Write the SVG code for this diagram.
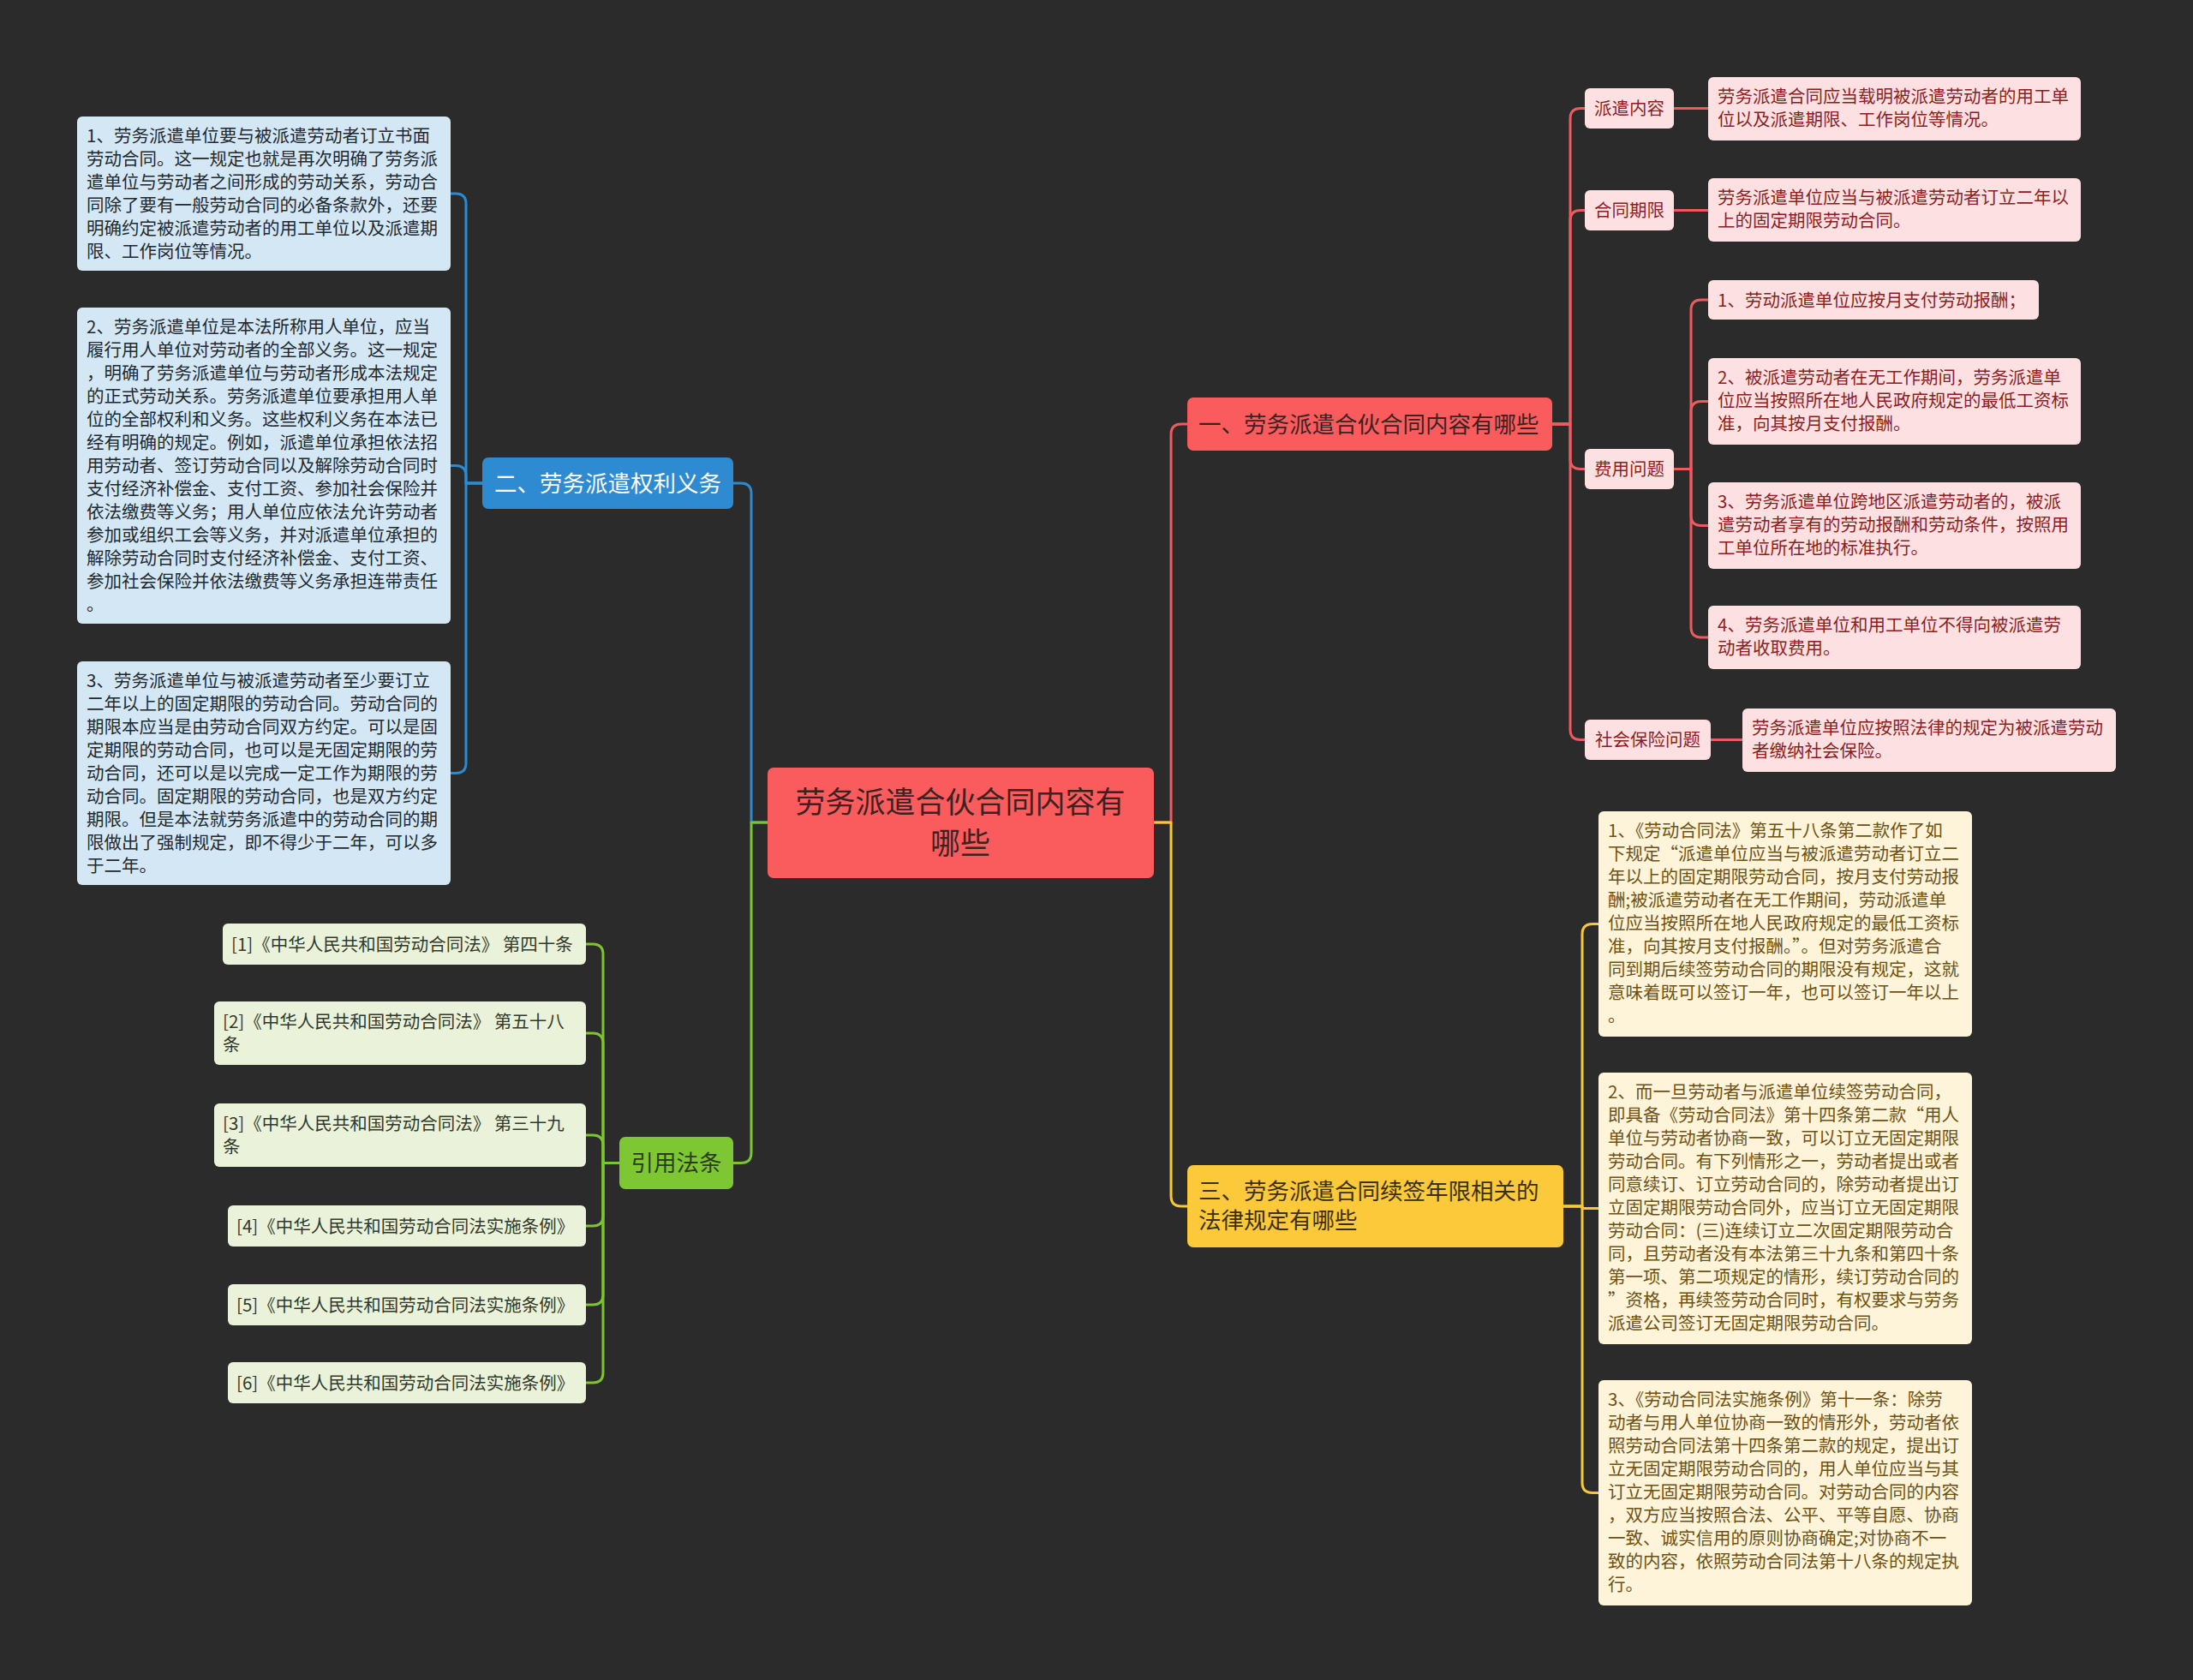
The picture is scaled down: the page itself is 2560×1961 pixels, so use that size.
<svg xmlns="http://www.w3.org/2000/svg" width="2560" height="1961" viewBox="0 0 2560 1961">
<style>
text{font-family:"Noto Sans CJK SC","Noto Sans",sans-serif;}
.bg{fill:#2b2b2b;}
.c{fill:none;stroke-width:3;stroke-linecap:round;stroke-linejoin:round;}
.cr{stroke:#ee5b5e;}
.cb{stroke:#2c8ad2;}
.cg{stroke:#7cc52f;}
.cy{stroke:#f6c836;}
.root{fill:#fa5b5d;}
.n1{fill:#fa5b5d;}
.n2{fill:#2e8ad1;}
.n3{fill:#7dc832;}
.n4{fill:#fbc93a;}
.lb{fill:#d4e7f5;}
.lg{fill:#eaf3da;}
.lp{fill:#fde1e2;}
.ly{fill:#fdf4d9;}
.tr{font-size:35px;fill:#3d2222;text-anchor:middle;}
.tm{font-size:26.5px;}
.tdk{fill:#3d2222;}
.tw{fill:#ffffff;}
.tgd{fill:#2c3a1d;}
.tyd{fill:#3a2f12;}
.ts{font-size:20.5px;}
.tbl{fill:#222a30;}
.tgl{fill:#33392a;}
.tpl{fill:#8c1d22;}
.tyl{fill:#6e5215;}
.mid{text-anchor:middle;}
</style>
<rect class="bg" x="0" y="0" width="2560" height="1961"/>

<g id="connectors">
  <!-- center to main branches -->
  <path class="c cb" d="M896,960 H877 V576 Q877,564 865,564 H856"/>
  <path class="c cg" d="M896,960 H877 V1345.5 Q877,1357.5 865,1357.5 H856"/>
  <path class="c cr" d="M1347,960 H1367 V507 Q1367,495 1379,495 H1386"/>
  <path class="c cy" d="M1347,960 H1367 V1396 Q1367,1408 1379,1408 H1386"/>
  <!-- blue branch -->
  <path class="c cb" d="M563,564 H544 V238 Q544,226 532,226 H526"/>
  <path class="c cb" d="M563,564 H544 V555.5 Q544,543.5 532,543.5 H526"/>
  <path class="c cb" d="M563,564 H544 V890.5 Q544,902.5 532,902.5 H526"/>
  <!-- green branch -->
  <path class="c cg" d="M723,1357.5 H704 V1114 Q704,1102 692,1102 H684"/>
  <path class="c cg" d="M723,1357.5 H704 V1218 Q704,1206 692,1206 H684"/>
  <path class="c cg" d="M723,1357.5 H704 V1337 Q704,1325 692,1325 H684"/>
  <path class="c cg" d="M723,1357.5 H704 V1419 Q704,1431 692,1431 H684"/>
  <path class="c cg" d="M723,1357.5 H704 V1511 Q704,1523 692,1523 H684"/>
  <path class="c cg" d="M723,1357.5 H704 V1602 Q704,1614 692,1614 H684"/>
  <!-- red branch -->
  <path class="c cr" d="M1812,495 H1833 V138.5 Q1833,126.5 1845,126.5 H1850"/>
  <path class="c cr" d="M1812,495 H1833 V257.5 Q1833,245.5 1845,245.5 H1850"/>
  <path class="c cr" d="M1812,495 H1833 V535.5 Q1833,547.5 1845,547.5 H1850"/>
  <path class="c cr" d="M1812,495 H1833 V851.5 Q1833,863.5 1845,863.5 H1850"/>
  <path class="c cr" d="M1954,126.5 H1994"/>
  <path class="c cr" d="M1954,245.5 H1994"/>
  <path class="c cr" d="M1954,547.5 H1974 V362 Q1974,350 1986,350 H1994"/>
  <path class="c cr" d="M1954,547.5 H1974 V480.5 Q1974,468.5 1986,468.5 H1994"/>
  <path class="c cr" d="M1954,547.5 H1974 V601.5 Q1974,613.5 1986,613.5 H1994"/>
  <path class="c cr" d="M1954,547.5 H1974 V732 Q1974,744 1986,744 H1994"/>
  <path class="c cr" d="M1997,863.5 H2034"/>
  <!-- yellow branch -->
  <path class="c cy" d="M1825,1408 H1847 V1090.5 Q1847,1078.5 1859,1078.5 H1866"/>
  <path class="c cy" d="M1825,1408 H1847 V1410.5 H1866"/>
  <path class="c cy" d="M1825,1408 H1847 V1730.5 Q1847,1742.5 1859,1742.5 H1866"/>
</g>

<g id="root">
  <rect class="root" x="896" y="896" width="451" height="129" rx="7"/>
  <text class="tr" x="1121" y="949">劳务派遣合伙合同内容有</text>
  <text class="tr" x="1121" y="997">哪些</text>
</g>

<g id="branch-1">
  <rect class="n1" x="1386" y="464" width="426" height="62" rx="7"/>
  <text class="tm tdk" x="1399" y="504.5">一、劳务派遣合伙合同内容有哪些</text>
</g>
<g id="branch-2">
  <rect class="n2" x="563" y="534" width="293" height="60" rx="7"/>
  <text class="tm tw mid" x="709.5" y="573.5">二、劳务派遣权利义务</text>
</g>
<g id="branch-3">
  <rect class="n4" x="1386" y="1360" width="439" height="96" rx="7"/>
  <text class="tm tyd" x="1399" y="1400">三、劳务派遣合同续签年限相关的</text>
  <text class="tm tyd" x="1399" y="1434">法律规定有哪些</text>
</g>
<g id="branch-refs">
  <rect class="n3" x="723" y="1327" width="133" height="61" rx="7"/>
  <text class="tm tgd mid" x="789.5" y="1367">引用法条</text>
</g>

<g id="blue-1">
  <rect class="lb" x="90" y="136" width="436" height="180" rx="6"/>
  <text class="ts tbl" x="101" y="165.5">1、劳务派遣单位要与被派遣劳动者订立书面</text>
  <text class="ts tbl" x="101" y="192.5">劳动合同。这一规定也就是再次明确了劳务派</text>
  <text class="ts tbl" x="101" y="219.5">遣单位与劳动者之间形成的劳动关系，劳动合</text>
  <text class="ts tbl" x="101" y="246.5">同除了要有一般劳动合同的必备条款外，还要</text>
  <text class="ts tbl" x="101" y="273.5">明确约定被派遣劳动者的用工单位以及派遣期</text>
  <text class="ts tbl" x="101" y="300.5">限、工作岗位等情况。</text>
</g>
<g id="blue-2">
  <rect class="lb" x="90" y="359" width="436" height="369" rx="6"/>
  <text class="ts tbl" x="101" y="388.5">2、劳务派遣单位是本法所称用人单位，应当</text>
  <text class="ts tbl" x="101" y="415.5">履行用人单位对劳动者的全部义务。这一规定</text>
  <text class="ts tbl" x="101" y="442.5">，明确了劳务派遣单位与劳动者形成本法规定</text>
  <text class="ts tbl" x="101" y="469.5">的正式劳动关系。劳务派遣单位要承担用人单</text>
  <text class="ts tbl" x="101" y="496.5">位的全部权利和义务。这些权利义务在本法已</text>
  <text class="ts tbl" x="101" y="523.5">经有明确的规定。例如，派遣单位承担依法招</text>
  <text class="ts tbl" x="101" y="550.5">用劳动者、签订劳动合同以及解除劳动合同时</text>
  <text class="ts tbl" x="101" y="577.5">支付经济补偿金、支付工资、参加社会保险并</text>
  <text class="ts tbl" x="101" y="604.5">依法缴费等义务；用人单位应依法允许劳动者</text>
  <text class="ts tbl" x="101" y="631.5">参加或组织工会等义务，并对派遣单位承担的</text>
  <text class="ts tbl" x="101" y="658.5">解除劳动合同时支付经济补偿金、支付工资、</text>
  <text class="ts tbl" x="101" y="685.5">参加社会保险并依法缴费等义务承担连带责任</text>
  <text class="ts tbl" x="101" y="712.5">。</text>
</g>
<g id="blue-3">
  <rect class="lb" x="90" y="772" width="436" height="261" rx="6"/>
  <text class="ts tbl" x="101" y="801.5">3、劳务派遣单位与被派遣劳动者至少要订立</text>
  <text class="ts tbl" x="101" y="828.5">二年以上的固定期限的劳动合同。劳动合同的</text>
  <text class="ts tbl" x="101" y="855.5">期限本应当是由劳动合同双方约定。可以是固</text>
  <text class="ts tbl" x="101" y="882.5">定期限的劳动合同，也可以是无固定期限的劳</text>
  <text class="ts tbl" x="101" y="909.5">动合同，还可以是以完成一定工作为期限的劳</text>
  <text class="ts tbl" x="101" y="936.5">动合同。固定期限的劳动合同，也是双方约定</text>
  <text class="ts tbl" x="101" y="963.5">期限。但是本法就劳务派遣中的劳动合同的期</text>
  <text class="ts tbl" x="101" y="990.5">限做出了强制规定，即不得少于二年，可以多</text>
  <text class="ts tbl" x="101" y="1017.5">于二年。</text>
</g>

<g id="ref-1">
  <rect class="lg" x="260" y="1078" width="424" height="48" rx="6"/>
  <text class="ts tgl" x="270" y="1109.5">[1]《中华人民共和国劳动合同法》 第四十条</text>
</g>
<g id="ref-2">
  <rect class="lg" x="250" y="1169" width="434" height="74" rx="6"/>
  <text class="ts tgl" x="260" y="1199.5">[2]《中华人民共和国劳动合同法》 第五十八</text>
  <text class="ts tgl" x="260" y="1226.5">条</text>
</g>
<g id="ref-3">
  <rect class="lg" x="250" y="1288" width="434" height="74" rx="6"/>
  <text class="ts tgl" x="260" y="1318.5">[3]《中华人民共和国劳动合同法》 第三十九</text>
  <text class="ts tgl" x="260" y="1345.5">条</text>
</g>
<g id="ref-4">
  <rect class="lg" x="266" y="1407" width="418" height="48" rx="6"/>
  <text class="ts tgl" x="276" y="1438.5">[4]《中华人民共和国劳动合同法实施条例》</text>
</g>
<g id="ref-5">
  <rect class="lg" x="266" y="1499" width="418" height="48" rx="6"/>
  <text class="ts tgl" x="276" y="1530.5">[5]《中华人民共和国劳动合同法实施条例》</text>
</g>
<g id="ref-6">
  <rect class="lg" x="266" y="1590" width="418" height="48" rx="6"/>
  <text class="ts tgl" x="276" y="1621.5">[6]《中华人民共和国劳动合同法实施条例》</text>
</g>

<g id="label-paiqian">
  <rect class="lp" x="1850" y="103" width="104" height="47" rx="6"/>
  <text class="ts tpl mid" x="1902" y="134">派遣内容</text>
</g>
<g id="label-qixian">
  <rect class="lp" x="1850" y="222" width="104" height="47" rx="6"/>
  <text class="ts tpl mid" x="1902" y="253">合同期限</text>
</g>
<g id="label-feiyong">
  <rect class="lp" x="1850" y="524" width="104" height="47" rx="6"/>
  <text class="ts tpl mid" x="1902" y="555">费用问题</text>
</g>
<g id="label-shebao">
  <rect class="lp" x="1850" y="840" width="147" height="47" rx="6"/>
  <text class="ts tpl mid" x="1923.5" y="871">社会保险问题</text>
</g>

<g id="leaf-paiqian">
  <rect class="lp" x="1994" y="90" width="435" height="74" rx="6"/>
  <text class="ts tpl" x="2005" y="120">劳务派遣合同应当载明被派遣劳动者的用工单</text>
  <text class="ts tpl" x="2005" y="147">位以及派遣期限、工作岗位等情况。</text>
</g>
<g id="leaf-qixian">
  <rect class="lp" x="1994" y="208" width="435" height="74" rx="6"/>
  <text class="ts tpl" x="2005" y="238">劳务派遣单位应当与被派遣劳动者订立二年以</text>
  <text class="ts tpl" x="2005" y="265">上的固定期限劳动合同。</text>
</g>
<g id="leaf-fee-1">
  <rect class="lp" x="1994" y="327" width="386" height="46" rx="6"/>
  <text class="ts tpl" x="2005" y="357.5">1、劳动派遣单位应按月支付劳动报酬；</text>
</g>
<g id="leaf-fee-2">
  <rect class="lp" x="1994" y="418" width="435" height="101" rx="6"/>
  <text class="ts tpl" x="2005" y="448">2、被派遣劳动者在无工作期间，劳务派遣单</text>
  <text class="ts tpl" x="2005" y="475">位应当按照所在地人民政府规定的最低工资标</text>
  <text class="ts tpl" x="2005" y="502">准，向其按月支付报酬。</text>
</g>
<g id="leaf-fee-3">
  <rect class="lp" x="1994" y="563" width="435" height="101" rx="6"/>
  <text class="ts tpl" x="2005" y="593">3、劳务派遣单位跨地区派遣劳动者的，被派</text>
  <text class="ts tpl" x="2005" y="620">遣劳动者享有的劳动报酬和劳动条件，按照用</text>
  <text class="ts tpl" x="2005" y="647">工单位所在地的标准执行。</text>
</g>
<g id="leaf-fee-4">
  <rect class="lp" x="1994" y="707" width="435" height="74" rx="6"/>
  <text class="ts tpl" x="2005" y="737">4、劳务派遣单位和用工单位不得向被派遣劳</text>
  <text class="ts tpl" x="2005" y="764">动者收取费用。</text>
</g>
<g id="leaf-shebao">
  <rect class="lp" x="2034" y="827" width="436" height="74" rx="6"/>
  <text class="ts tpl" x="2045" y="857">劳务派遣单位应按照法律的规定为被派遣劳动</text>
  <text class="ts tpl" x="2045" y="884">者缴纳社会保险。</text>
</g>

<g id="yellow-1">
  <rect class="ly" x="1866" y="947" width="436" height="263" rx="6"/>
  <text class="ts tyl" x="1877" y="976.5">1、《劳动合同法》第五十八条第二款作了如</text>
  <text class="ts tyl" x="1877" y="1003.5">下规定“派遣单位应当与被派遣劳动者订立二</text>
  <text class="ts tyl" x="1877" y="1030.5">年以上的固定期限劳动合同，按月支付劳动报</text>
  <text class="ts tyl" x="1877" y="1057.5">酬;被派遣劳动者在无工作期间，劳动派遣单</text>
  <text class="ts tyl" x="1877" y="1084.5">位应当按照所在地人民政府规定的最低工资标</text>
  <text class="ts tyl" x="1877" y="1111.5">准，向其按月支付报酬。”。但对劳务派遣合</text>
  <text class="ts tyl" x="1877" y="1138.5">同到期后续签劳动合同的期限没有规定，这就</text>
  <text class="ts tyl" x="1877" y="1165.5">意味着既可以签订一年，也可以签订一年以上</text>
  <text class="ts tyl" x="1877" y="1192.5">。</text>
</g>
<g id="yellow-2">
  <rect class="ly" x="1866" y="1252" width="436" height="317" rx="6"/>
  <text class="ts tyl" x="1877" y="1281.5">2、而一旦劳动者与派遣单位续签劳动合同，</text>
  <text class="ts tyl" x="1877" y="1308.5">即具备《劳动合同法》第十四条第二款“用人</text>
  <text class="ts tyl" x="1877" y="1335.5">单位与劳动者协商一致，可以订立无固定期限</text>
  <text class="ts tyl" x="1877" y="1362.5">劳动合同。有下列情形之一，劳动者提出或者</text>
  <text class="ts tyl" x="1877" y="1389.5">同意续订、订立劳动合同的，除劳动者提出订</text>
  <text class="ts tyl" x="1877" y="1416.5">立固定期限劳动合同外，应当订立无固定期限</text>
  <text class="ts tyl" x="1877" y="1443.5">劳动合同：(三)连续订立二次固定期限劳动合</text>
  <text class="ts tyl" x="1877" y="1470.5">同，且劳动者没有本法第三十九条和第四十条</text>
  <text class="ts tyl" x="1877" y="1497.5">第一项、第二项规定的情形，续订劳动合同的</text>
  <text class="ts tyl" x="1877" y="1524.5">”资格，再续签劳动合同时，有权要求与劳务</text>
  <text class="ts tyl" x="1877" y="1551.5">派遣公司签订无固定期限劳动合同。</text>
</g>
<g id="yellow-3">
  <rect class="ly" x="1866" y="1611" width="436" height="263" rx="6"/>
  <text class="ts tyl" x="1877" y="1640.5">3、《劳动合同法实施条例》第十一条：除劳</text>
  <text class="ts tyl" x="1877" y="1667.5">动者与用人单位协商一致的情形外，劳动者依</text>
  <text class="ts tyl" x="1877" y="1694.5">照劳动合同法第十四条第二款的规定，提出订</text>
  <text class="ts tyl" x="1877" y="1721.5">立无固定期限劳动合同的，用人单位应当与其</text>
  <text class="ts tyl" x="1877" y="1748.5">订立无固定期限劳动合同。对劳动合同的内容</text>
  <text class="ts tyl" x="1877" y="1775.5">，双方应当按照合法、公平、平等自愿、协商</text>
  <text class="ts tyl" x="1877" y="1802.5">一致、诚实信用的原则协商确定;对协商不一</text>
  <text class="ts tyl" x="1877" y="1829.5">致的内容，依照劳动合同法第十八条的规定执</text>
  <text class="ts tyl" x="1877" y="1856.5">行。</text>
</g>
</svg>
